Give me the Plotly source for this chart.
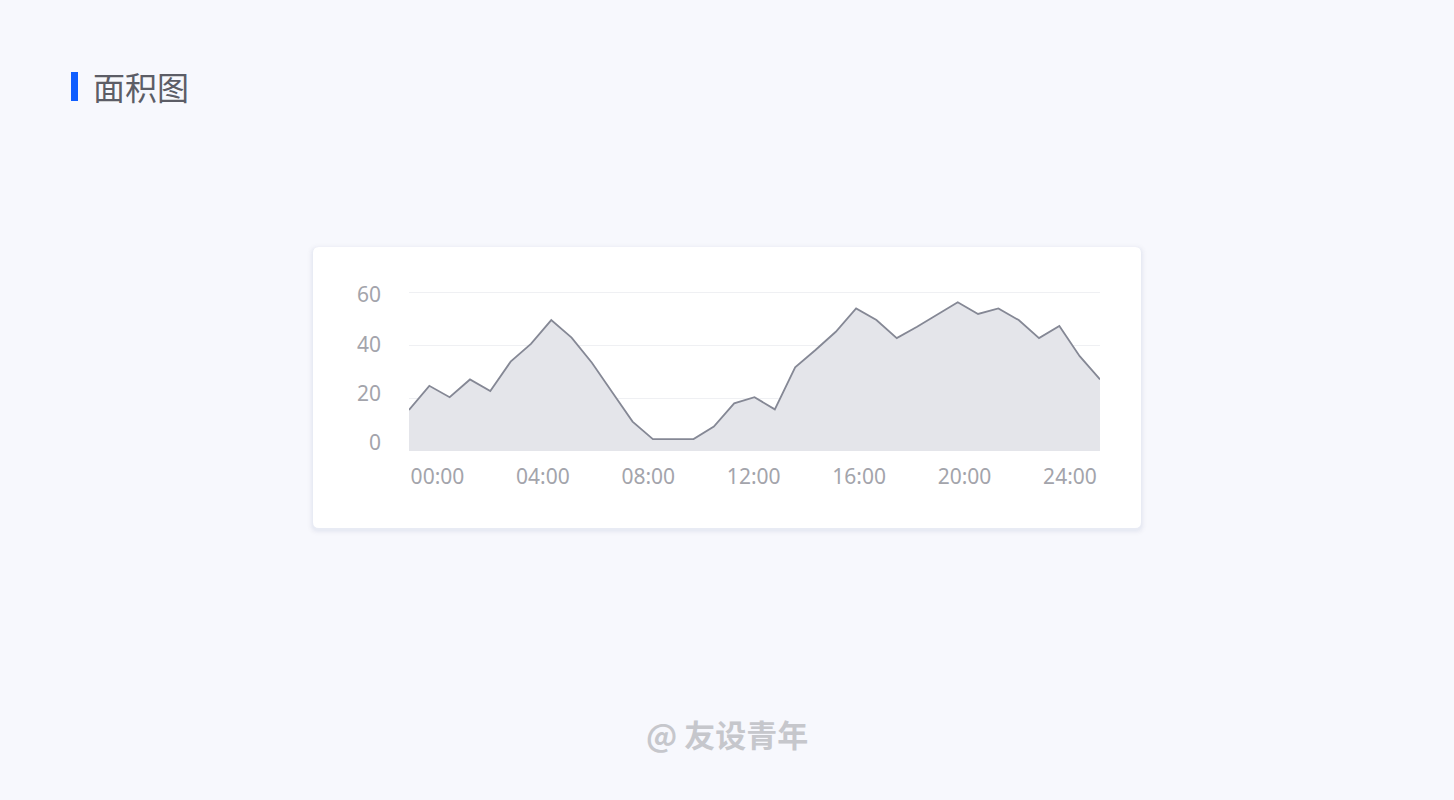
import plotly.graph_objects as go

# ---- data ----
values = [15.5, 24.6, 20.3, 27.0, 22.6, 33.7, 40.4, 49.4, 42.8, 33.3,
          22.2, 11.1, 4.5, 4.5, 4.5, 9.2, 18.0, 20.3, 15.7, 31.6,
          38.1, 45.0, 53.8, 49.4, 42.6, 46.9, 51.6, 56.1, 51.7, 53.8,
          49.4, 42.6, 47.2, 35.8, 27.0]
x_index = list(range(len(values)))
tick_labels = ["00:00", "04:00", "08:00", "12:00", "16:00", "20:00", "24:00"]
y_ticks = [0, 20, 40, 60]
title_text = "面积图"
watermark_text = "@ 友设青年"

W, H = 1454, 800
BG = "#F7F8FD"


def px(x):
    return x / W


def py(y):
    return 1 - y / H


def rounded_rect(x0, y0, x1, y1, r):
    rx, ry = r / W, r / H
    X0, X1 = px(x0), px(x1)
    Y0, Y1 = py(y0), py(y1)  # Y0 top (larger), Y1 bottom
    return (f"M {X0+rx},{Y0} L {X1-rx},{Y0} Q {X1},{Y0} {X1},{Y0-ry} "
            f"L {X1},{Y1+ry} Q {X1},{Y1} {X1-rx},{Y1} "
            f"L {X0+rx},{Y1} Q {X0},{Y1} {X0},{Y1+ry} "
            f"L {X0},{Y0-ry} Q {X0},{Y0} {X0+rx},{Y0} Z")


fig = go.Figure()

fig.add_trace(go.Scatter(
    x=x_index, y=values, mode="lines", fill="tozeroy",
    line=dict(color="#858895", width=1.8),
    fillcolor="#E4E5EA", hoverinfo="skip", showlegend=False,
    xaxis="x", yaxis="y"))

# invisible helpers so the label axes are rendered
fig.add_trace(go.Scatter(
    x=list(range(len(tick_labels))), y=[None] * len(tick_labels),
    mode="markers", marker=dict(opacity=0), hoverinfo="skip",
    showlegend=False, xaxis="x2", yaxis="y"))
fig.add_trace(go.Scatter(
    x=[None] * len(y_ticks), y=y_ticks,
    mode="markers", marker=dict(opacity=0), hoverinfo="skip",
    showlegend=False, xaxis="x", yaxis="y2"))

shapes = []
# soft shadow
for i, a in enumerate([0.05, 0.05, 0.04, 0.03, 0.02, 0.015]):
    d = i + 1
    shapes.append(dict(type="path", xref="paper", yref="paper",
                       path=rounded_rect(313 - d, 247 - d + 2, 1141 + d, 528 + d + 2, 6 + d),
                       fillcolor=f"rgba(180,188,215,{a})", line=dict(width=0),
                       layer="below"))
shapes.append(dict(type="path", xref="paper", yref="paper",
                   path=rounded_rect(313, 247, 1141, 528, 6),
                   fillcolor="#FFFFFF", line=dict(width=0), layer="below"))
# title marker bar
shapes.append(dict(type="rect", xref="paper", yref="paper",
                   x0=px(71), x1=px(78), y0=py(101), y1=py(72),
                   fillcolor="#0F5EFF", line=dict(width=0), layer="below"))

annotations = [
    dict(text=title_text, xref="paper", yref="paper", x=px(91), y=py(86),
         xanchor="left", yanchor="middle", showarrow=False,
         font=dict(family="Noto Sans CJK SC", size=32, color="#5C5D66")),
    dict(text=f"<b>{watermark_text}</b>", xref="paper", yref="paper", x=px(727), y=py(733),
         xanchor="center", yanchor="middle", showarrow=False,
         font=dict(family="Noto Sans CJK SC", size=31, color="#C6C7CC")),
]

tickfont = dict(family="Noto Sans, sans-serif", size=21, color="#A3A4AB")

# y range slightly beyond 60 so the top gridline is drawn; domain keeps 60 at same pixel
y_top_val = 61
px_per_unit = (451 - 292) / 60
y_top_px = 451 - y_top_val * px_per_unit

# label axis (y2): labels sit slightly off the gridlines as in the reference
lab_k = (443 - 295) / 60
lab_r0 = -(451 - 443) / lab_k
lab_r1 = lab_r0 + (451 - y_top_px) / lab_k

fig.update_layout(
    template="none",
    width=W, height=H, autosize=False,
    margin=dict(l=0, r=0, t=0, b=0, pad=0, autoexpand=False),
    paper_bgcolor=BG, plot_bgcolor="rgba(0,0,0,0)",
    shapes=shapes, annotations=annotations,
    xaxis=dict(domain=[px(409), px(1100)], range=[0, len(values) - 1],
               showgrid=False, zeroline=False, showticklabels=False,
               ticks="", showline=False, fixedrange=True, automargin=False),
    xaxis2=dict(domain=[px(409), px(1100)], range=[-0.27, 6.285],
                overlaying="x", anchor="y", side="bottom",
                tickmode="array", tickvals=list(range(len(tick_labels))),
                ticktext=tick_labels, showgrid=False, zeroline=False,
                ticks="", showline=False, tickfont=tickfont,
                ticklabelstandoff=11, automargin=False),
    yaxis=dict(domain=[py(451), py(y_top_px)], range=[0, y_top_val],
               tickmode="array", tickvals=y_ticks, showticklabels=False,
               showgrid=True, gridcolor="#EFF0F3", gridwidth=1,
               zeroline=False, ticks="", showline=False, automargin=False),
    yaxis2=dict(domain=[py(451), py(y_top_px)], range=[lab_r0, lab_r1],
                overlaying="y", anchor="x", side="left",
                tickmode="array", tickvals=y_ticks,
                showgrid=False, zeroline=False, ticks="", showline=False,
                tickfont=tickfont, ticklabelstandoff=27, automargin=False),
    showlegend=False,
)

post = (
    "document.documentElement.style.margin='0';"
    "document.documentElement.style.overflow='hidden';"
    "document.body.style.margin='0';document.body.style.padding='0';"
    "document.body.style.overflow='hidden';"
    "document.body.style.background='" + BG + "';"
    "var gd=document.getElementById('{plot_id}');"
    "gd.style.position='fixed';gd.style.top='0px';gd.style.left='0px';"
)

fig.write_html(
    "out.html",
    config={"responsive": False, "displayModeBar": False},
    post_script=post,
)
